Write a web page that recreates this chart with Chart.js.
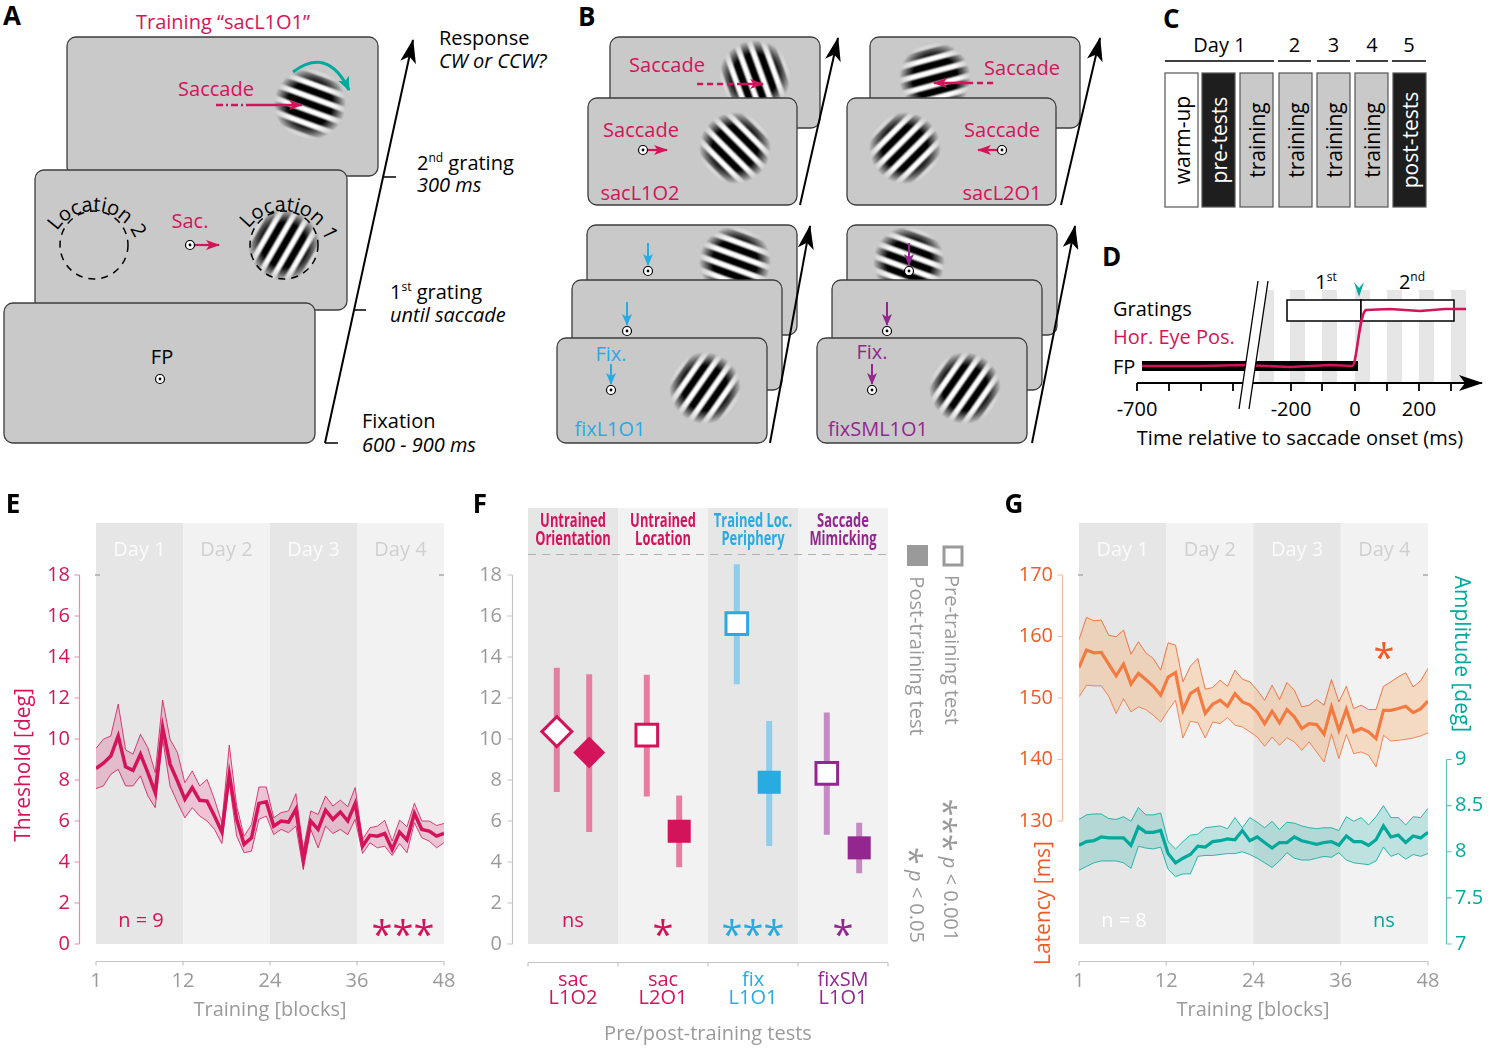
<!DOCTYPE html>
<html>
<head>
<meta charset="utf-8">
<title>Saccade training figure</title>
<script src="https://cdn.jsdelivr.net/npm/chart.js@4.4.1/dist/chart.umd.min.js"></script>
<style>
  body { margin: 0; background: #fff; }
  #page { position: relative; width: 1491px; height: 1057px; overflow: hidden; font-family: "Open Sans", sans-serif; }
  #page svg { position: absolute; left: 0; top: 0; font-family: "Open Sans", sans-serif; }
  #notes { pointer-events: none; }
  .box { position: absolute; }
  .box canvas { display: block; }
</style>
</head>
<body>
<div id="page">
  <svg id="schem" width="1491" height="1057"></svg>
  <div class="box" style="left:0;top:490px"><canvas id="chartE" width="470" height="560"></canvas></div>
  <div class="box" style="left:470px;top:490px"><canvas id="chartF" width="530" height="560"></canvas></div>
  <div class="box" style="left:1000px;top:490px"><canvas id="chartG" width="491" height="560"></canvas></div>
  <svg id="notes" width="1491" height="1057"></svg>
</div>
<script>
//  DATA

var blocks = [];
for (var b = 1; b <= 48; b++) blocks.push(b);
// the figure splits the block axis into four equal day sections
var blockTicks = [1, 12, 24, 36, 48];
var blockTickPos = [1, 12.75, 24.5, 36.25, 48];
var dayNames = ['Day 1', 'Day 2', 'Day 3', 'Day 4'];

// E: discrimination threshold per training block (mean and error band)
var threshMean = [8.56, 8.82, 9.17, 10.15, 8.64, 8.47, 9.26, 8.36, 7.38, 10.56,
                  8.77, 7.95, 7.06, 7.63, 7.01, 6.97, 6.24, 5.46, 8.28, 6.08,
                  4.86, 5.18, 6.86, 6.94, 5.75, 6.00, 5.95, 6.57, 4.12, 6.00,
                  5.59, 6.53, 6.08, 6.44, 6.00, 6.85, 4.77, 5.30, 5.26, 5.39,
                  4.61, 5.46, 5.07, 6.37, 5.59, 5.51, 5.26, 5.39];
var threshUpper = [9.54, 9.99, 10.15, 11.70, 9.47, 9.26, 10.23, 9.58, 8.36, 11.90,
                   9.99, 9.34, 7.87, 8.44, 7.71, 8.03, 7.06, 5.92, 9.70, 6.73,
                   5.26, 5.83, 7.66, 7.66, 6.16, 6.41, 6.49, 7.33, 4.61, 6.49,
                   6.32, 7.22, 6.73, 7.02, 6.70, 7.63, 5.10, 5.67, 5.75, 6.03,
                   5.02, 6.04, 5.72, 6.86, 6.00, 6.00, 5.78, 5.88];
var threshLower = [7.58, 7.71, 8.28, 8.52, 7.71, 7.71, 8.20, 7.22, 6.65, 9.99,
                   7.71, 6.90, 6.16, 6.65, 6.24, 6.00, 5.59, 4.90, 7.87, 5.26,
                   4.45, 4.53, 6.08, 6.24, 5.34, 5.59, 5.43, 5.75, 3.63, 5.59,
                   4.69, 5.75, 5.39, 5.59, 5.33, 6.08, 4.42, 4.94, 4.69, 4.77,
                   4.32, 4.90, 4.45, 5.92, 5.18, 5.02, 4.69, 4.94];
var threshTicks = [0, 2, 4, 6, 8, 10, 12, 14, 16, 18];

// G: saccade latency [ms] and amplitude [deg]
var latMean = [154.96, 157.8, 157.35, 157.4, 155.5, 153.6, 155.5, 152.25, 154.0, 153.0,
               151.9, 150.46, 153.4, 154.15, 148.0, 150.7, 151.5, 147.5, 149.0, 149.64,
               148.66, 150.7, 149.37, 148.9, 147.74, 145.84, 147.85, 145.95, 148.12, 146.93,
               145.03, 145.84, 145.68, 144.1, 148.56, 144.76, 148.18, 144.5, 145.03, 144.5,
               143.4, 148.0, 148.0, 148.28, 148.66, 147.63, 148.23, 149.53];
var latUpper = [159.5, 163.1, 162.56, 162.67, 160.2, 159.96, 161.04, 157.13, 159.14, 157.35,
                156.43, 154.53, 158.98, 158.6, 152.63, 155.18, 156.43, 151.43, 151.7, 152.9,
                151.9, 154.53, 153.06, 152.63, 151.27, 149.64, 152.08, 149.75, 152.52, 151.27,
                148.56, 148.83, 149.75, 148.83, 153.0, 149.37, 151.9, 148.28, 148.83, 148.12,
                148.12, 151.9, 152.63, 153.44, 154.1, 151.8, 152.8, 154.8];
var latLower = [150.2, 152.08, 151.98, 151.98, 150.3, 147.47, 149.91, 147.74, 148.56, 148.12,
                147.2, 146.11, 148.0, 149.64, 143.5, 146.22, 146.0, 143.5, 146.11, 145.84,
                146.82, 145.57, 145.3, 144.5, 143.67, 142.15, 143.67, 142.31, 143.56, 142.86,
                141.5, 142.86, 141.23, 139.6, 144.2, 140.14, 144.1, 140.96, 141.23, 140.7,
                138.8, 143.94, 143.02, 143.13, 143.29, 143.5, 143.83, 144.32];
var latTicks = [130, 140, 150, 160, 170];

var ampMean = [8.07, 8.11, 8.12, 8.16, 8.15, 8.15, 8.15, 8.07, 8.27, 8.21,
               8.21, 8.23, 7.98, 7.88, 7.93, 7.97, 8.06, 8.05, 8.11, 8.12,
               8.14, 8.13, 8.23, 8.12, 8.16, 8.10, 8.04, 8.10, 8.10, 8.16,
               8.12, 8.10, 8.08, 8.10, 8.11, 8.07, 8.17, 8.11, 8.11, 8.07,
               8.13, 8.28, 8.16, 8.18, 8.10, 8.17, 8.15, 8.21];
var ampUpper = [8.35, 8.40, 8.41, 8.41, 8.36, 8.35, 8.38, 8.33, 8.48, 8.40,
                8.40, 8.42, 8.11, 8.03, 8.11, 8.18, 8.19, 8.26, 8.27, 8.28,
                8.25, 8.37, 8.26, 8.37, 8.32, 8.26, 8.33, 8.24, 8.32, 8.31,
                8.28, 8.26, 8.25, 8.26, 8.26, 8.23, 8.38, 8.33, 8.37, 8.29,
                8.38, 8.50, 8.37, 8.37, 8.29, 8.38, 8.37, 8.47];
var ampLower = [7.80, 7.84, 7.88, 7.90, 7.90, 7.90, 7.88, 7.82, 8.06, 8.04,
                8.03, 8.05, 7.81, 7.73, 7.76, 7.76, 7.95, 7.96, 7.96, 7.97,
                7.98, 7.98, 8.00, 7.97, 7.93, 7.88, 7.83, 7.90, 7.99, 7.93,
                7.91, 7.91, 7.93, 7.95, 7.94, 7.99, 7.91, 7.88, 7.87, 7.86,
                7.90, 8.05, 7.95, 7.98, 7.92, 7.97, 7.95, 7.98];
var ampTicks = [7, 7.5, 8, 8.5, 9];

// F: pre / post training tests
var testNames = [['sac', 'L1O2'], ['sac', 'L2O1'], ['fix', 'L1O1'], ['fixSM', 'L1O1']];
var testGroups = [['Untrained', 'Orientation'], ['Untrained', 'Location'], ['Trained Loc.', 'Periphery'], ['Saccade', 'Mimicking']];
var testSig = ['ns', '*', '***', '*'];
var preMean = [10.36, 10.19, 15.63, 8.32];
var preLo = [7.42, 7.19, 12.67, 5.33];
var preHi = [13.48, 13.13, 18.53, 11.29];
var postMean = [9.34, 5.50, 7.89, 4.69];
var postLo = [5.46, 3.74, 4.78, 3.45];
var postHi = [13.16, 7.24, 10.88, 5.92];

//  COLOURS

var crimson = '#d4145a';
var orange = '#f15a24';
var teal = '#00a99d';
var blue = '#29abe2';
var purple = '#93278f';
var grey = '#9a9a9a';
var bandDark = '#e6e6e6';
var bandLight = '#f2f2f2';
var testColors = [crimson, crimson, blue, purple];
var barColors = ['#e57fa2', '#e57fa2', '#8fcdea', '#c48ac2'];
var testShapes = ['rectRot', 'rect', 'rect', 'rect'];

Chart.defaults.font.family = '"Open Sans", sans-serif';
Chart.defaults.animation = false;

function pts(ys) {
    return blocks.map(function (b, i) { return {x: b, y: ys[i]}; });
}

//  SCHEMATIC (panels A - D)

var S = [];
S.push('<defs>' +
    '<linearGradient id="wave" x1="0" x2="1" y1="0" y2="0">' +
    '<stop offset="0" stop-color="#000"/><stop offset="0.18" stop-color="#000"/>' +
    '<stop offset="0.38" stop-color="#fff"/><stop offset="0.62" stop-color="#fff"/>' +
    '<stop offset="0.82" stop-color="#000"/><stop offset="1" stop-color="#000"/></linearGradient>' +
    '<pattern id="stripes" width="13" height="10" patternUnits="userSpaceOnUse"><rect width="13" height="10" fill="url(#wave)"/></pattern>' +
    '<radialGradient id="env"><stop offset="0" stop-color="#fff"/><stop offset="0.62" stop-color="#fff"/><stop offset="1" stop-color="#000"/></radialGradient>' +
    '<mask id="gmask" maskContentUnits="objectBoundingBox"><rect width="1" height="1" fill="url(#env)"/></mask>' +
    marker('hTime', '#000', 24, 16) + marker('hCrim', crimson, 14, 10) + marker('hBlue', blue, 12, 10) +
    marker('hPurp', purple, 12, 10) + marker('hTeal', teal, 14, 12) +
    '</defs>');

function marker(id, color, w, h) {
    return '<marker id="' + id + '" viewBox="0 0 ' + w + ' ' + h + '" refX="' + (w - 1) + '" refY="' + h / 2 +
        '" markerWidth="' + w + '" markerHeight="' + h + '" markerUnits="userSpaceOnUse" orient="auto">' +
        '<path d="M0,0 L' + w + ',' + h / 2 + ' L0,' + h + ' L' + w * 0.25 + ',' + h / 2 + ' z" fill="' + color + '"/></marker>';
}
function screen(x, y, w, h) {
    S.push('<rect x="' + x + '" y="' + y + '" width="' + w + '" height="' + h + '" rx="9" fill="#c9c9c9" stroke="#3c3c3c" stroke-width="1.3"/>');
}
function gabor(cx, cy, r, ang) {
    S.push('<g transform="translate(' + cx + ',' + cy + ') rotate(' + ang + ')"><circle r="' + r + '" fill="url(#stripes)" mask="url(#gmask)"/></g>');
}
function fp(x, y) {
    S.push('<circle cx="' + x + '" cy="' + y + '" r="4.5" fill="#fff" stroke="#000" stroke-width="1.2"/><circle cx="' + x + '" cy="' + y + '" r="1.4" fill="#000"/>');
}
function txt(t, x, y, o) {
    o = o || {};
    S.push('<text x="' + x + '" y="' + y + '" font-size="' + (o.size || 20) + '" fill="' + (o.color || '#000') +
        '" text-anchor="' + (o.anchor || 'start') + '"' + (o.italic ? ' font-style="italic"' : '') +
        (o.bold ? ' font-weight="bold"' : '') + (o.mid ? ' dominant-baseline="central"' : '') +
        (o.rot ? ' transform="rotate(' + o.rot + ' ' + x + ' ' + y + ')"' : '') + '>' + t + '</text>');
}
function line(x1, y1, x2, y2, o) {
    o = o || {};
    S.push('<line x1="' + x1 + '" y1="' + y1 + '" x2="' + x2 + '" y2="' + y2 + '" stroke="' + (o.color || '#000') +
        '" stroke-width="' + (o.w || 1.5) + '"' + (o.dash ? ' stroke-dasharray="' + o.dash + '"' : '') +
        (o.head ? ' marker-end="url(#' + o.head + ')"' : '') + '/>');
}
function arcText(id, t, cx, cy, r, off) {
    S.push('<path id="' + id + '" d="M' + (cx - r) + ',' + (cy + 10) + ' A' + r + ',' + r + ' 0 1,1 ' + (cx + r) + ',' + (cy + 10) + '" fill="none"/>');
    S.push('<text font-size="20"><textPath href="#' + id + '" startOffset="' + off + '%" text-anchor="middle">' + t + '</textPath></text>');
}
function sup(base, s) {
    return base + '<tspan dy="-8" font-size="12">' + s + '</tspan><tspan dy="8"> </tspan>';
}

// panel letters
txt('A', 3, 25, {size: 26, bold: true});
txt('B', 578, 26, {size: 26, bold: true});
txt('C', 1163, 28, {size: 26, bold: true});
txt('D', 1102, 266, {size: 26, bold: true});

// A: training trial
txt('Training \u201CsacL1O1\u201D', 223, 29, {color: crimson, anchor: 'middle'});
screen(67, 37, 311, 139);
gabor(310, 104, 36, 110);
txt('Saccade', 216, 96, {color: crimson, anchor: 'middle'});
line(216, 105, 246, 105, {color: crimson, w: 2.5, dash: '7 3 2 3'});
line(246, 105, 302, 105, {color: crimson, w: 2.5, head: 'hCrim'});
S.push('<path d="M293,72 Q328,46 349,90" fill="none" stroke="' + teal + '" stroke-width="3" marker-end="url(#hTeal)"/>');

screen(35, 170, 312, 140);
S.push('<circle cx="94" cy="245" r="34" fill="none" stroke="#000" stroke-width="1.5" stroke-dasharray="7 6"/>');
arcText('arcL2', 'Location 2', 94, 245, 44, 53);
txt('Sac.', 190, 228, {color: crimson, anchor: 'middle'});
line(195, 245, 219, 245, {color: crimson, w: 2.2, head: 'hCrim'});
fp(190, 245);
gabor(284, 245, 36, 30);
S.push('<circle cx="284" cy="245" r="34" fill="none" stroke="#000" stroke-width="1.5" stroke-dasharray="7 6"/>');
arcText('arcL1', 'Location 1', 284, 245, 44, 55);

screen(4, 303, 311, 140);
txt('FP', 162, 364, {anchor: 'middle'});
fp(160, 379);

line(325, 443, 413, 40, {w: 2, head: 'hTime'});
line(325, 443, 338, 443, {w: 1.5});
line(354, 310, 366, 310, {w: 1.5});
line(383, 177, 396, 177, {w: 1.5});
txt('Response', 439, 45);
txt('CW or CCW?', 439, 68, {italic: true});
txt(sup('2', 'nd') + 'grating', 417, 170);
txt('300 ms', 417, 192, {italic: true});
txt(sup('1', 'st') + 'grating', 390, 299);
txt('until saccade', 390, 322, {italic: true});
txt('Fixation', 362, 428);
txt('600 - 900 ms', 362, 452, {italic: true});

// B: pre/post test conditions
screen(610, 37, 210, 91);
gabor(755, 76, 36, -20);
txt('Saccade', 667, 72, {color: crimson, anchor: 'middle'});
line(697, 84, 737, 84, {color: crimson, w: 2.5, dash: '6 4'});
line(737, 84, 763, 84, {color: crimson, w: 2.5, head: 'hCrim'});
screen(588, 98, 209, 107);
gabor(735, 148, 36, -45);
txt('Saccade', 641, 137, {color: crimson, anchor: 'middle'});
line(648, 150, 667, 150, {color: crimson, w: 2.2, head: 'hCrim'});
fp(643, 150);
txt('sacL1O2', 640, 200, {color: crimson, anchor: 'middle'});
line(800, 205, 838, 38, {w: 2, head: 'hTime'});

screen(870, 37, 210, 91);
gabor(935, 78, 36, 75);
txt('Saccade', 1022, 75, {color: crimson, anchor: 'middle'});
line(993, 83, 970, 83, {color: crimson, w: 2.5, dash: '6 4'});
line(970, 83, 934, 83, {color: crimson, w: 2.5, head: 'hCrim'});
screen(847, 98, 209, 107);
gabor(905, 148, 36, 45);
txt('Saccade', 1002, 137, {color: crimson, anchor: 'middle'});
line(997, 150, 978, 150, {color: crimson, w: 2.2, head: 'hCrim'});
fp(1002, 150);
txt('sacL2O1', 1002, 200, {color: crimson, anchor: 'middle'});
line(1061, 205, 1100, 38, {w: 2, head: 'hTime'});

screen(587, 225, 210, 110);
gabor(735, 262, 36, 110);
line(648, 243, 648, 265, {color: blue, w: 2, head: 'hBlue'});
fp(648, 271);
screen(572, 280, 210, 110);
line(627, 302, 627, 325, {color: blue, w: 2, head: 'hBlue'});
fp(627, 331);
screen(557, 338, 210, 105);
txt('Fix.', 611, 361, {color: blue, anchor: 'middle'});
line(611, 364, 611, 384, {color: blue, w: 2, head: 'hBlue'});
fp(611, 390);
gabor(705, 388, 36, 35);
txt('fixL1O1', 610, 436, {color: blue, anchor: 'middle'});
line(770, 443, 810, 226, {w: 2, head: 'hTime'});

screen(847, 225, 210, 110);
gabor(909, 262, 36, 110);
line(909, 243, 909, 265, {color: purple, w: 2, head: 'hPurp'});
fp(909, 271);
screen(832, 280, 210, 110);
line(887, 302, 887, 325, {color: purple, w: 2, head: 'hPurp'});
fp(887, 331);
screen(817, 338, 210, 105);
txt('Fix.', 872, 359, {color: purple, anchor: 'middle'});
line(872, 364, 872, 384, {color: purple, w: 2, head: 'hPurp'});
fp(872, 390);
gabor(965, 388, 36, 35);
txt('fixSML1O1', 878, 436, {color: purple, anchor: 'middle'});
line(1032, 443, 1075, 226, {w: 2, head: 'hTime'});

// C: session schedule
var cDays = [['Day 1', 1165, 1274], ['2', 1278, 1311], ['3', 1317, 1350], ['4', 1356, 1388], ['5', 1392, 1426]];
cDays.forEach(function (d) {
    txt(d[0], (d[1] + d[2]) / 2, 52, {anchor: 'middle'});
    line(d[1], 61, d[2], 61, {w: 1.5});
});
var cBoxes = [['warm-up', 1165, '#fff', '#000'], ['pre-tests', 1202, '#1e1e1e', '#fff'], ['training', 1240, '#c9c9c9', '#000'],
              ['training', 1279, '#c9c9c9', '#000'], ['training', 1317, '#c9c9c9', '#000'], ['training', 1355, '#c9c9c9', '#000'],
              ['post-tests', 1393, '#1e1e1e', '#fff']];
cBoxes.forEach(function (bx) {
    S.push('<rect x="' + bx[1] + '" y="73" width="33" height="134" fill="' + bx[2] + '" stroke="#555" stroke-width="1.2"/>');
    txt(bx[0], bx[1] + 16.5, 140, {anchor: 'middle', mid: true, rot: -90, color: bx[3], size: 21});
});

// D: trial timeline
[1259, 1290, 1322, 1355, 1387, 1419, 1451].forEach(function (x) {
    S.push('<rect x="' + x + '" y="290" width="15" height="93" fill="#e6e6e6"/>');
});
S.push('<rect x="1287" y="300" width="74" height="21" fill="#fff" stroke="#000" stroke-width="1.5"/>');
S.push('<rect x="1361" y="300" width="93" height="21" fill="#fff" stroke="#000" stroke-width="1.5"/>');
S.push('<path d="M1354,282 L1359,288 L1364,282 L1359,297 z" fill="' + teal + '"/>');
txt(sup('1', 'st'), 1326, 289, {anchor: 'middle'});
txt(sup('2', 'nd'), 1412, 289, {anchor: 'middle'});
S.push('<rect x="1142" y="361" width="216" height="10" fill="#000"/>');
S.push('<path d="M1142,366 L1200,366 L1245,365 L1290,367 L1330,365 L1352,366 C1357,366 1359,313 1366,310 L1390,309 L1420,311 L1445,309 L1466,309" fill="none" stroke="' + crimson + '" stroke-width="2.6"/>');
line(1137, 383, 1482, 383, {w: 2, head: 'hTime'});
[1137, 1169, 1201, 1233, 1291, 1322, 1355, 1387, 1419, 1451].forEach(function (x) {
    line(x, 383, x, 391, {w: 1.8});
});
S.push('<path d="M1239,409 L1258,281 L1268,281 L1249,409 z" fill="#fff"/>');
line(1239, 409, 1258, 281, {w: 1.3});
line(1249, 409, 1268, 281, {w: 1.3});
txt('Gratings', 1113, 316);
txt('Hor. Eye Pos.', 1113, 344, {color: crimson});
txt('FP', 1113, 374);
[['-700', 1137], ['-200', 1291], ['0', 1355], ['200', 1419]].forEach(function (t) {
    txt(t[0], t[1], 416, {anchor: 'middle'});
});
txt('Time relative to saccade onset (ms)', 1300, 445, {anchor: 'middle'});

document.getElementById('schem').innerHTML = S.join('');

//  PLUGINS

function dayPlugin(topExt) {
    return {
        id: 'days',
        beforeDatasetsDraw: function (chart) {
            var ctx = chart.ctx, a = chart.chartArea, x = chart.scales.x;
            ctx.save();
            for (var i = 0; i < dayNames.length; i++) {
                var x0 = x.getPixelForValue(blockTickPos[i]), x1 = x.getPixelForValue(blockTickPos[i + 1]);
                ctx.fillStyle = i % 2 ? bandLight : bandDark;
                ctx.fillRect(x0, a.top - topExt, x1 - x0, a.bottom - a.top + topExt);
                ctx.fillStyle = i % 2 ? '#d0d0d0' : '#fbfbfb';
                ctx.font = '20px "Open Sans"';
                ctx.textAlign = 'center';
                ctx.textBaseline = 'middle';
                ctx.fillText(dayNames[i], (x0 + x1) / 2, a.top - 25);
            }
            ctx.strokeStyle = '#aaa';
            ctx.lineWidth = 1.5;
            ctx.beginPath();
            ctx.moveTo(a.left - 1, a.top); ctx.lineTo(a.left + 4, a.top);
            ctx.moveTo(a.right - 5, a.top); ctx.lineTo(a.right, a.top);
            ctx.stroke();
            ctx.restore();
        }
    };
}

function axisPlugin(list) {
    return {
        id: 'offsetAxes',
        afterDraw: function (chart) {
            var ctx = chart.ctx, a = chart.chartArea;
            list.forEach(function (ax) {
                var s = chart.scales[ax.scale];
                ctx.save();
                ctx.strokeStyle = ax.color;
                ctx.lineWidth = 1.2;
                ctx.beginPath();
                if (s.isHorizontal()) {
                    var y = Math.round(a.bottom + ax.gap) + 0.5;
                    ctx.moveTo(s.getPixelForValue(ax.from), y);
                    ctx.lineTo(s.getPixelForValue(ax.to), y);
                    ax.ticks.forEach(function (v) {
                        var px = s.getPixelForValue(v);
                        ctx.moveTo(px, y); ctx.lineTo(px, y + 4);
                    });
                } else {
                    var left = ax.side === 'left';
                    var xx = Math.round(left ? a.left - ax.gap : a.right + ax.gap) + 0.5;
                    var d = left ? -5 : 5;
                    ctx.moveTo(xx, s.getPixelForValue(ax.from));
                    ctx.lineTo(xx, s.getPixelForValue(ax.to));
                    ax.ticks.forEach(function (v) {
                        var py = s.getPixelForValue(v);
                        ctx.moveTo(xx, py); ctx.lineTo(xx + d, py);
                    });
                }
                ctx.stroke();
                ctx.restore();
            });
        }
    };
}

function setTicks(list) {
    return function (s) { s.ticks = list.map(function (v) { return {value: v}; }); };
}

// keep the plot area fixed: labels may overhang the ends of the x axis
function fixX(s) {
    s.height = 106;
    s.paddingLeft = 0;
    s.paddingRight = 0;
}

var noGrid = {display: false, drawTicks: false};
var noBorder = {display: false};

function blockAxis() {
    return {
        type: 'linear', min: 1, max: 48,
        grid: noGrid, border: noBorder,
        afterBuildTicks: setTicks(blockTickPos),
        afterFit: fixX,
        ticks: {
            color: grey, font: {size: 20}, padding: 25,
            callback: function (v, i) { return blockTicks[i]; }
        }
    };
}

//  E: THRESHOLD

new Chart(document.getElementById('chartE'), {
    type: 'line',
    data: {
        datasets: [
            {data: pts(threshUpper), borderColor: crimson, borderWidth: 0.8, backgroundColor: 'rgba(212,20,90,0.2)', fill: '+1'},
            {data: pts(threshLower), borderColor: crimson, borderWidth: 0.8, fill: false},
            {data: pts(threshMean), borderColor: crimson, borderWidth: 3.5, fill: false}
        ]
    },
    options: {
        responsive: false,
        elements: {point: {radius: 0}, line: {tension: 0}},
        layout: {padding: {top: 85, right: 26, left: 0, bottom: 0}},
        plugins: {legend: {display: false}, tooltip: {enabled: false}},
        scales: {
            x: blockAxis(),
            y: {
                min: 0, max: 18,
                grid: noGrid, border: noBorder,
                afterBuildTicks: setTicks(threshTicks),
                afterFit: function (s) { s.width = 96; },
                ticks: {color: crimson, font: {size: 20}, padding: 26}
            }
        }
    },
    plugins: [dayPlugin(52), axisPlugin([
        {scale: 'y', side: 'left', gap: 17, from: 0, to: 18, ticks: threshTicks, color: '#e88aab'},
        {scale: 'x', gap: 17, from: 1, to: 48, ticks: blockTickPos, color: '#c4c4c4'}
    ])]
});

//  F: PRE / POST TESTS

var testPlugin = {
    id: 'tests',
    beforeDatasetsDraw: function (chart) {
        var ctx = chart.ctx, a = chart.chartArea, x = chart.scales.x, y = chart.scales.y;
        ctx.save();
        for (var i = 0; i < testNames.length; i++) {
            var x0 = x.getPixelForValue(i), x1 = x.getPixelForValue(i + 1), xm = (x0 + x1) / 2;
            ctx.fillStyle = i % 2 ? bandLight : bandDark;
            ctx.fillRect(x0, a.top - 67, x1 - x0, a.bottom - a.top + 67);
            ctx.fillStyle = testColors[i];
            ctx.font = 'bold 19px "Open Sans"';
            ctx.textAlign = 'center';
            ctx.textBaseline = 'middle';
            testGroups[i].forEach(function (t, k) {
                ctx.save();
                ctx.translate(xm, a.top - 53 + k * 18);
                ctx.scale(0.68, 1);
                ctx.fillText(t, 0, 0);
                ctx.restore();
            });
        }
        ctx.strokeStyle = '#b0b0b0';
        ctx.lineWidth = 1;
        ctx.setLineDash([8, 6]);
        ctx.beginPath();
        ctx.moveTo(a.left, a.top - 20.5);
        ctx.lineTo(a.right, a.top - 20.5);
        ctx.stroke();
        ctx.setLineDash([]);
        // error bars
        ctx.lineWidth = 6;
        for (var j = 0; j < testNames.length; j++) {
            ctx.strokeStyle = barColors[j];
            ctx.beginPath();
            ctx.moveTo(x.getPixelForValue(j + 0.32), y.getPixelForValue(preLo[j]));
            ctx.lineTo(x.getPixelForValue(j + 0.32), y.getPixelForValue(preHi[j]));
            ctx.moveTo(x.getPixelForValue(j + 0.68), y.getPixelForValue(postLo[j]));
            ctx.lineTo(x.getPixelForValue(j + 0.68), y.getPixelForValue(postHi[j]));
            ctx.stroke();
        }
        ctx.restore();
    }
};

new Chart(document.getElementById('chartF'), {
    type: 'scatter',
    data: {
        datasets: [
            {
                data: preMean.map(function (v, i) { return {x: i + 0.32, y: v}; }),
                pointStyle: testShapes, pointRadius: [15, 15.3, 15.3, 15.3],
                pointBackgroundColor: '#fff', pointBorderColor: testColors, pointBorderWidth: 3
            },
            {
                data: postMean.map(function (v, i) { return {x: i + 0.68, y: v}; }),
                pointStyle: testShapes, pointRadius: [16, 16.3, 16.3, 16.3],
                pointBackgroundColor: testColors, pointBorderColor: testColors, pointBorderWidth: 0
            }
        ]
    },
    options: {
        responsive: false,
        layout: {padding: {top: 85, right: 112, left: 0, bottom: 0}},
        plugins: {legend: {display: false}, tooltip: {enabled: false}},
        scales: {
            x: {
                type: 'linear', min: 0, max: 4,
                grid: noGrid, border: noBorder,
                afterBuildTicks: setTicks([0.5, 1.5, 2.5, 3.5]),
                afterFit: fixX,
                ticks: {
                    callback: function (v, i) { return testNames[i]; },
                    color: function (c) { return testColors[c.index]; },
                    font: {size: 20, lineHeight: 0.9}, padding: 27
                }
            },
            y: {
                min: 0, max: 18,
                grid: noGrid, border: noBorder,
                afterBuildTicks: setTicks(threshTicks),
                afterFit: function (s) { s.width = 58; },
                ticks: {color: grey, font: {size: 20}, padding: 26}
            }
        }
    },
    plugins: [testPlugin, axisPlugin([
        {scale: 'y', side: 'left', gap: 16, from: 0, to: 18, ticks: threshTicks, color: '#c4c4c4'},
        {scale: 'x', gap: 18, from: 0, to: 4, ticks: [0, 1, 2, 3, 4], color: '#c4c4c4'}
    ])]
});

//  G: LATENCY AND AMPLITUDE

new Chart(document.getElementById('chartG'), {
    type: 'line',
    data: {
        datasets: [
            {data: pts(latUpper), yAxisID: 'yLat', borderColor: orange, borderWidth: 0.8, backgroundColor: 'rgba(247,178,115,0.38)', fill: '+1'},
            {data: pts(latLower), yAxisID: 'yLat', borderColor: orange, borderWidth: 0.8, fill: false},
            {data: pts(latMean), yAxisID: 'yLat', borderColor: orange, borderWidth: 3.2, fill: false},
            {data: pts(ampUpper), yAxisID: 'yAmp', borderColor: teal, borderWidth: 0.8, backgroundColor: 'rgba(0,169,157,0.22)', fill: '+1'},
            {data: pts(ampLower), yAxisID: 'yAmp', borderColor: teal, borderWidth: 0.8, fill: false},
            {data: pts(ampMean), yAxisID: 'yAmp', borderColor: teal, borderWidth: 3.2, fill: false}
        ]
    },
    options: {
        responsive: false,
        elements: {point: {radius: 0}, line: {tension: 0}},
        layout: {padding: {top: 85, right: 0, left: 0, bottom: 0}},
        plugins: {legend: {display: false}, tooltip: {enabled: false}},
        scales: {
            x: blockAxis(),
            yLat: {
                position: 'left', min: 110, max: 170,
                grid: noGrid, border: noBorder,
                afterBuildTicks: setTicks(latTicks),
                afterFit: function (s) { s.width = 79; },
                ticks: {color: orange, font: {size: 20}, padding: 26}
            },
            yAmp: {
                position: 'right', min: 7, max: 11,
                grid: noGrid, border: noBorder,
                afterBuildTicks: setTicks(ampTicks),
                afterFit: function (s) { s.width = 63; },
                ticks: {color: teal, font: {size: 20}, padding: 27, callback: function (v) { return String(v); }}
            }
        }
    },
    plugins: [dayPlugin(52), axisPlugin([
        {scale: 'yLat', side: 'left', gap: 17, from: 130, to: 170, ticks: latTicks, color: '#f9b99a'},
        {scale: 'yAmp', side: 'right', gap: 18, from: 7, to: 9, ticks: ampTicks, color: '#5cc4bb'},
        {scale: 'x', gap: 17, from: 1, to: 48, ticks: blockTickPos, color: '#c4c4c4'}
    ])]
});

//  TITLES AND NOTES (on top of the charts)

var N = [];
function note(t, x, y, o) {
    o = o || {};
    N.push('<text x="' + x + '" y="' + y + '" font-size="' + (o.size || 20) + '" fill="' + (o.color || '#000') +
        '" text-anchor="middle" dominant-baseline="central"' + (o.bold ? ' font-weight="bold"' : '') +
        (o.rot ? ' transform="rotate(' + o.rot + ' ' + x + ' ' + y + ')"' : '') + '>' + t + '</text>');
}
note('E', 13, 503, {size: 26, bold: true});
note('F', 480, 503, {size: 26, bold: true});
note('G', 1014, 503, {size: 26, bold: true});

note('Threshold [deg]', 22, 765, {color: crimson, size: 21, rot: -90});
note('Training [blocks]', 270, 1008, {color: grey});
note('n = 9', 141, 919, {color: crimson});
note('***', 403, 933, {color: crimson, size: 38});

testSig.forEach(function (t, i) {
    var big = t.indexOf('*') >= 0;
    note(t, 573 + i * 90, big ? 933 : 919, {color: testColors[i], size: big ? 38 : 20});
});
note('Pre/post-training tests', 708, 1032, {color: grey});
N.push('<rect x="944" y="547" width="18" height="18" fill="#fff" stroke="' + grey + '" stroke-width="3"/>');
N.push('<rect x="907" y="545" width="21" height="21" fill="' + grey + '"/>');
note('Pre-training test', 952, 650, {color: grey, rot: 90});
note('Post-training test', 917, 656, {color: grey, rot: 90});
note('<tspan font-size="32" dy="6">***</tspan><tspan dy="-6"> </tspan><tspan font-style="italic">p</tspan> &lt; 0.001', 951, 870, {color: grey, rot: 90});
note('<tspan font-size="32" dy="6">*</tspan><tspan dy="-6"> </tspan><tspan font-style="italic">p</tspan> &lt; 0.05', 917, 895, {color: grey, rot: 90});

note('Latency [ms]', 1042, 903, {color: orange, size: 21, rot: -90});
note('Amplitude [deg]', 1463, 654, {color: teal, size: 21, rot: 90});
note('Training [blocks]', 1253, 1008, {color: grey});
note('n = 8', 1124, 919, {color: '#fff'});
note('ns', 1384, 919, {color: teal});
note('*', 1384, 656, {color: orange, size: 38});

document.getElementById('notes').innerHTML = N.join('');
</script>
</body>
</html>
